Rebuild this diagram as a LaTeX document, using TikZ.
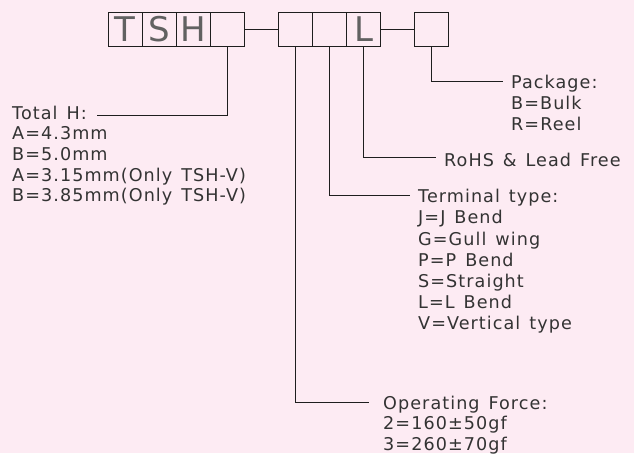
\documentclass[tikz,border=0pt]{standalone}
\usepackage{fontspec}
\newfontfamily\cadfont[LetterSpace=6,WordSpace=1.35]{DejaVu Sans}
\newfontfamily\boxfont{DejaVu Sans}
\definecolor{bgpink}{RGB}{253,235,243}
\definecolor{ink}{RGB}{30,30,30}
\begin{document}
\begin{tikzpicture}[x=1pt,y=-1pt,
  cell/.style={draw=ink,line width=1pt,minimum width=34pt,minimum height=34pt,inner sep=0pt,
    font=\boxfont\fontsize{34}{34}\selectfont,text=black!62},
  lead/.style={draw=ink,line width=1pt},
  lbl/.style={anchor=base west,inner sep=0pt,font=\cadfont\fontsize{17.6}{21}\selectfont,text=black!80}]
\fill[bgpink] (0,0) rectangle (634,453);
\useasboundingbox (0,0) rectangle (634,453);

% code boxes
\node[cell] (b1) at (125.3,29) {T};
\node[cell] (b2) at (159.3,29) {S};
\node[cell] (b3) at (193.3,29) {H};
\node[cell] (b4) at (227.3,29) {};
\node[cell] (b5) at (295.5,29) {};
\node[cell] (b6) at (329.6,29) {};
\node[cell] (b7) at (363.7,29) {L};
\node[cell] (b8) at (431.7,29) {};
\draw[lead] (b4.east) -- (b5.west);
\draw[lead] (b7.east) -- (b8.west);

% leader ends
\coordinate (eH) at (96.7,115.7);
\coordinate (eP) at (503,81.7);
\coordinate (eR) at (436,157.3);
\coordinate (eT) at (410,195.7);
\coordinate (eO) at (369,402);
\draw[lead] (b4.south) |- (eH);
\draw[lead] (b8.south) |- (eP);
\draw[lead] (b7.south) |- (eR);
\draw[lead] (b6.south) |- (eT);
\draw[lead] (b5.south) |- (eO);

% Total H
\node[lbl] (h1) at (12,119.3) {Total H:};
\node[lbl] (h2) at (12,139.9) {A=4.3mm};
\node[lbl] (h3) at (12,160.5) {B=5.0mm};
\node[lbl] (h4) at (12,181.1) {A=3.15mm(Only TSH-V)};
\node[lbl] (h5) at (12,201.7) {B=3.85mm(Only TSH-V)};

% Package
\node[lbl] (p1) at (511,88.3) {Package:};
\node[lbl] (p2) at (511,109.5) {B=Bulk};
\node[lbl] (p3) at (511,130.7) {R=Reel};

% RoHS
\node[lbl] (r1) at (444,166) {RoHS \& Lead Free};

% Terminal type
\node[lbl] (t1) at (418,202.7) {Terminal type:};
\node[lbl] (t2) at (418,223.9) {J=J Bend};
\node[lbl] (t3) at (418,245.1) {G=Gull wing};
\node[lbl] (t4) at (418,266.3) {P=P Bend};
\node[lbl] (t5) at (418,287.5) {S=Straight};
\node[lbl] (t6) at (418,308.7) {L=L Bend};
\node[lbl] (t7) at (418,329.9) {V=Vertical type};

% Operating force
\node[lbl] (o1) at (383,409.3) {Operating Force:};
\node[lbl] (o2) at (383,429.7) {2=160±50gf};
\node[lbl] (o3) at (383,450.1) {3=260±70gf};
\end{tikzpicture}
\end{document}
